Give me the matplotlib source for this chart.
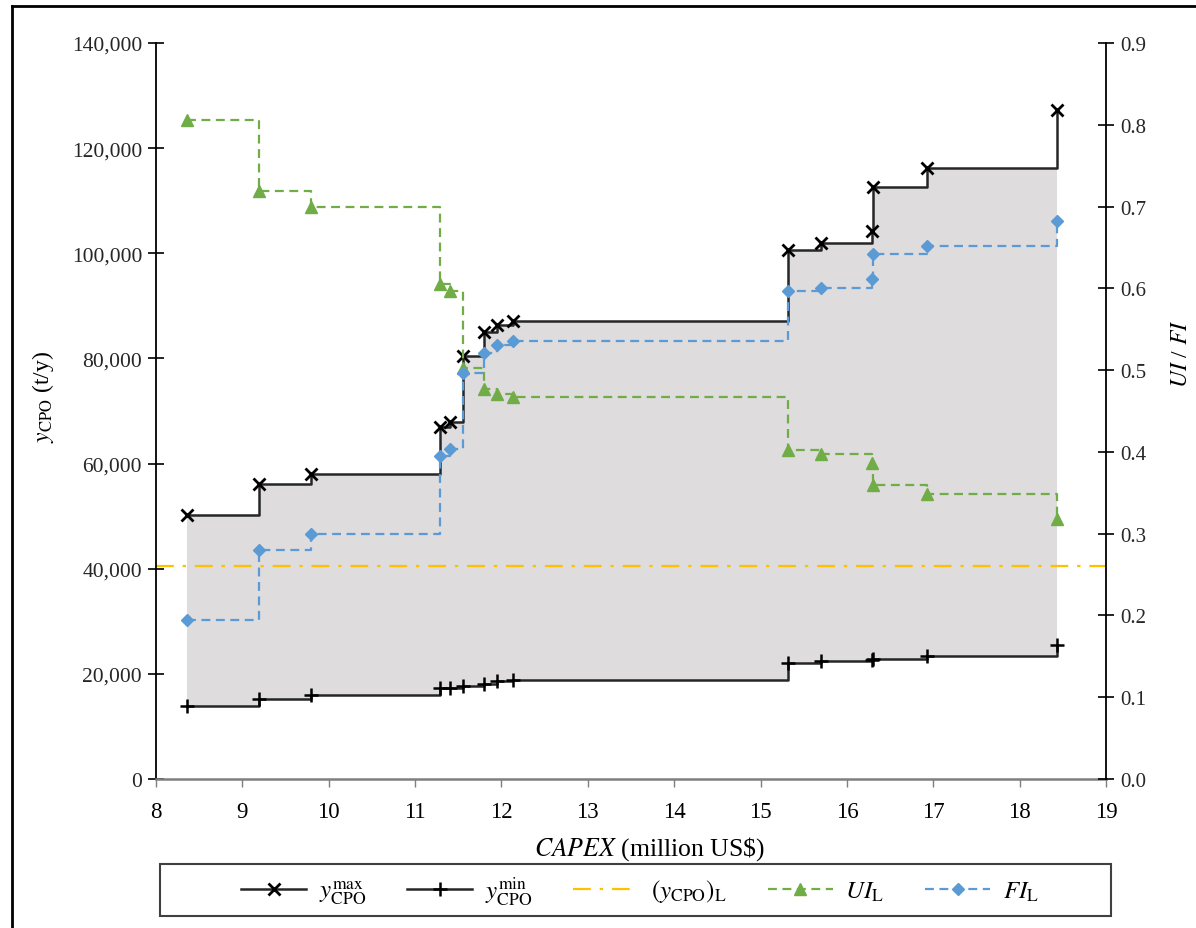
import matplotlib
matplotlib.use("Agg")
import matplotlib.pyplot as plt
from matplotlib.lines import Line2D
from matplotlib.patches import Rectangle
from matplotlib.ticker import FuncFormatter, MultipleLocator

# --- DONNEES ---
capex = [8.36, 9.19, 9.80, 11.29, 11.40, 11.55, 11.80, 11.95, 12.13,
         15.32, 15.70, 16.29, 16.30, 16.93, 18.43]
y_max = [50300, 56200, 58000, 66900, 68000, 80500, 85100, 86400, 87100,
         100700, 102000, 104300, 112700, 116200, 127300]
y_min = [13900, 15300, 15900, 17300, 17400, 17700, 18100, 18700, 18800,
         22000, 22500, 22700, 22800, 23400, 25400]
ui_l = [0.806, 0.719, 0.699, 0.605, 0.597, 0.503, 0.477, 0.471, 0.467,
        0.402, 0.397, 0.387, 0.359, 0.348, 0.318]
fi_l = [0.194, 0.280, 0.300, 0.395, 0.404, 0.497, 0.521, 0.531, 0.535,
        0.597, 0.601, 0.611, 0.642, 0.652, 0.682]
y_cpo_l = 40500

plt.rcParams['font.family'] = ['Liberation Serif', 'DejaVu Serif']
plt.rcParams['mathtext.fontset'] = 'stix'

W, H = 1196, 929
fig = plt.figure(figsize=(W / 100, H / 100), dpi=100)
ax = fig.add_axes([156 / W, 1 - 780 / H, 950 / W, 736 / H])
ax2 = ax.twinx()

# zone grise entre min et max
ax.fill_between(capex, y_min, y_max, step='post', color='#DEDCDD', lw=0, zorder=1)
h_max, = ax.plot(capex, y_max, drawstyle='steps-post', color='#262626', lw=1.8,
                 marker='x', ms=8, mew=2, mec='black', zorder=3,
                 label=r'$y_{\rm CPO}^{\rm max}$')
h_min, = ax.plot(capex, y_min, drawstyle='steps-post', color='#262626', lw=1.8,
                 marker='+', ms=10, mew=1.8, mec='black', zorder=3,
                 label=r'$y_{\rm CPO}^{\rm min}$')
h_lim = ax.axhline(y_cpo_l, color='#FFC000', lw=1.6, ls=(0, (8, 4, 1.5, 4)), zorder=2,
                   label=r'$\left(y_{\rm CPO}\right)_{\rm L}$')

h_ui, = ax2.plot(capex, ui_l, drawstyle='steps-post', color='#70AD47', lw=1.6,
                 ls=(0, (4, 2.5)), marker='^', ms=8, zorder=3, label=r'$UI_{\rm L}$')
h_fi, = ax2.plot(capex, fi_l, drawstyle='steps-post', color='#5B9BD5', lw=1.6,
                 ls=(0, (4, 2.5)), marker='D', ms=6, zorder=3, label=r'$FI_{\rm L}$')

# axes
ax.set_xlim(8, 19)
ax.set_ylim(0, 140000)
ax2.set_ylim(0, 0.9)
ax.xaxis.set_major_locator(MultipleLocator(1))
ax.yaxis.set_major_locator(MultipleLocator(20000))
ax2.yaxis.set_major_locator(MultipleLocator(0.1))
ax.yaxis.set_major_formatter(FuncFormatter(lambda v, p: f"{v:,.0f}"))
ax2.yaxis.set_major_formatter(FuncFormatter(lambda v, p: f"{v:.1f}"))

for a in (ax, ax2):
    a.spines['top'].set_visible(False)
ax.spines['right'].set_visible(False)
ax.spines['left'].set_linewidth(1.3)
ax2.spines['right'].set_linewidth(1.3)
ax.spines['bottom'].set_color('#7F7F7F')
ax.spines['bottom'].set_linewidth(1.8)
ax2.spines['bottom'].set_visible(False)
ax2.spines['left'].set_visible(False)

ax.tick_params(axis='y', direction='inout', length=12, width=1.2, labelsize=15.5, pad=4)
ax2.tick_params(axis='y', direction='inout', length=12, width=1.2, labelsize=15, pad=4)
ax.tick_params(axis='x', direction='out', length=6, width=1.0, labelsize=16.5, pad=10,
               color='#7F7F7F')
for t in ax.get_yticklabels() + ax2.get_yticklabels():
    t.set_color('#262626')

ax.set_xlabel(r'$\mathit{CAPEX}$ (million US\$)', fontsize=18.5, labelpad=10)
ax.xaxis.set_label_coords(0.52, -0.075)
ax.set_ylabel(r'$y_{\rm CPO}$ (t/y)', fontsize=17)
ax.yaxis.set_label_coords(-0.105, 0.52)
ax2.set_ylabel(r'$\mathit{UI}$ / $\mathit{FI}$', fontsize=17)
ax2.yaxis.set_label_coords(1.068, 0.58)

# legende dans un cadre
fig.patches.append(Rectangle((160 / W, 1 - 917 / H), 951 / W, 52 / H,
                             transform=fig.transFigure, fill=False,
                             ec='#404040', lw=1.5))
fig.legend(handles=[h_max, h_min, h_lim, h_ui, h_fi], loc='center',
           bbox_to_anchor=(640 / W, 1 - 891 / H), ncol=5, frameon=False,
           fontsize=18, handlelength=2.6, columnspacing=1.65, handletextpad=0.5)

# cadre exterieur
fig.add_artist(Line2D([12 / W, 1], [1 - 7 / H, 1 - 7 / H], transform=fig.transFigure,
                      color='black', lw=2))
fig.add_artist(Line2D([12 / W, 12 / W], [0, 1 - 7 / H], transform=fig.transFigure,
                      color='black', lw=2))

fig.savefig("out.png", dpi=100)
